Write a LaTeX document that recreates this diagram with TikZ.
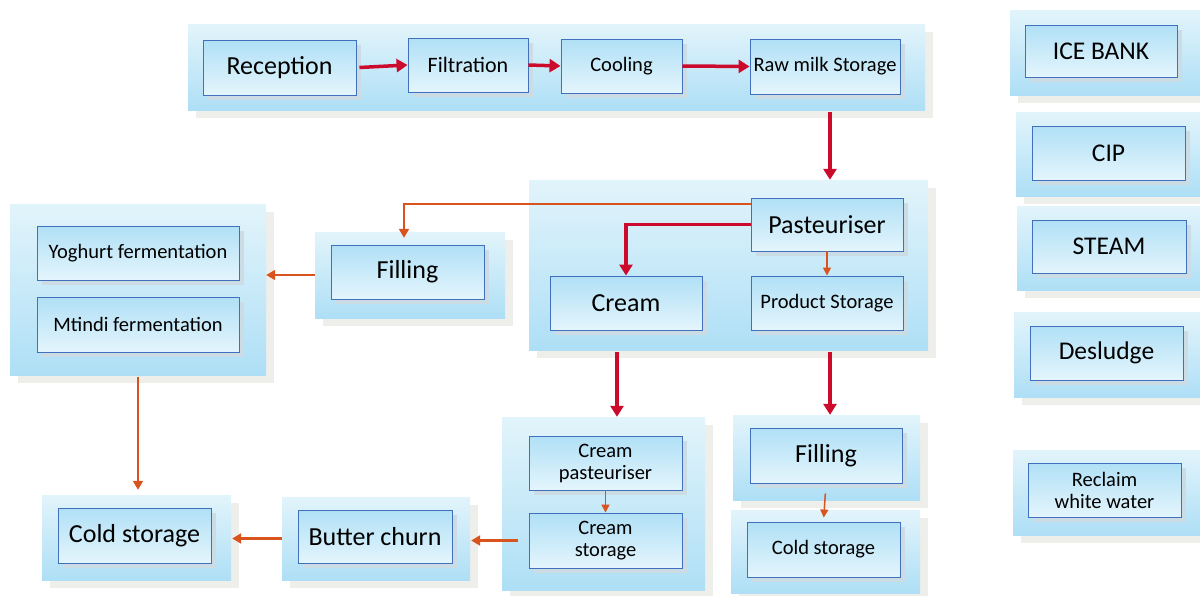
\documentclass[tikz,border=0pt]{standalone}
\usepackage{fontspec}
\setmainfont{Carlito}
\usepackage{xcolor}
\usetikzlibrary{arrows.meta, shadows, calc, positioning}

\definecolor{paneltop}{HTML}{E2F4FB}
\definecolor{panelbot}{HTML}{AEDFF6}
\definecolor{boxtop}{HTML}{B0E0F6}
\definecolor{boxbot}{HTML}{E4F5FC}
\definecolor{boxline}{HTML}{4070BE}
\definecolor{shadowgray}{HTML}{EEEEEA}
\definecolor{boxshadow}{HTML}{CCDCE4}
\definecolor{flowred}{HTML}{CC0A2C}
\definecolor{floworange}{HTML}{D9531E}

\tikzset{
  panel/.style={rectangle, inner sep=0pt, top color=paneltop, bottom color=panelbot,
    drop shadow={shadow xshift=8pt, shadow yshift=-8pt, shadow scale=1, fill=shadowgray, opacity=1}},
  box/.style={rectangle, draw=boxline, line width=0.9pt, inner sep=0pt, align=center,
    top color=boxtop, bottom color=boxbot,
    drop shadow={shadow xshift=5pt, shadow yshift=-5pt, shadow scale=1, fill=boxshadow, opacity=1}},
  bigtxt/.style={font=\fontsize{26}{28}\selectfont},
  midtxt/.style={font=\fontsize{20.5}{22}\selectfont},
  servtxt/.style={font=\fontsize{25.5}{27}\selectfont},
  redflow/.style={draw=flowred, line width=3.5pt, -{Triangle[length=11pt, width=13pt]}},
  orflow/.style={draw=floworange, line width=2pt, -{Triangle[length=9pt, width=10pt]}},
  smallflow/.style={draw=floworange, line width=1.5pt, -{Triangle[length=8pt, width=8pt]}}
}

\begin{document}
\begin{tikzpicture}[x=1pt, y=-1pt]
\useasboundingbox (0,0) rectangle (1200,595);

% reception line
\node[panel, minimum width=737pt, minimum height=86pt] (pTop) at (556.5, 67) {};
\node[box, bigtxt, minimum width=153pt, minimum height=55pt] (rec) at (279.5, 67.5) {Reception};
\node[box, font=\fontsize{22}{24}\selectfont, minimum width=120pt, minimum height=54pt] (filt) at (468, 65) {Filtration};
\node[box, midtxt, minimum width=121pt, minimum height=54pt] (cool) at (621.5, 66) {Cooling};
\node[box, midtxt, minimum width=150pt, minimum height=55pt] (raw) at (825, 66.5) {Raw milk Storage};

% pasteurising
\node[panel, minimum width=399pt, minimum height=170pt] (pPast) at (728.5, 265) {};
\node[box, bigtxt, minimum width=152pt, minimum height=53pt] (past) at (827, 224.5) {Pasteuriser};
\node[box, bigtxt, minimum width=152pt, minimum height=54pt] (cream) at (626, 303) {Cream};
\node[box, midtxt, minimum width=152pt, minimum height=54pt] (prod) at (827, 303) {Product Storage};

% filling and fermentation
\node[panel, minimum width=190pt, minimum height=86pt] (pFill) at (410, 275) {};
\node[box, bigtxt, minimum width=153pt, minimum height=54pt] (fill) at (407.5, 272) {Filling};
\node[panel, minimum width=256pt, minimum height=171pt] (pFerm) at (138, 289.5) {};
\node[box, midtxt, minimum width=202pt, minimum height=54pt] (yog) at (138, 253) {Yoghurt fermentation};
\node[box, midtxt, minimum width=202pt, minimum height=55pt] (mti) at (138, 324.5) {Mtindi fermentation};

% bottom row
\node[panel, minimum width=189pt, minimum height=85pt] (pCold) at (136.5, 537.5) {};
\node[box, bigtxt, minimum width=153pt, minimum height=55pt] (cold) at (134.5, 535.5) {Cold storage};
\node[panel, minimum width=188pt, minimum height=83pt] (pChurn) at (376, 538.5) {};
\node[box, bigtxt, minimum width=154pt, minimum height=53pt] (churn) at (375, 536.5) {Butter churn};
\node[panel, minimum width=203pt, minimum height=173pt] (pCr) at (603.5, 503.5) {};
\node[box, midtxt, minimum width=153pt, minimum height=54pt] (crPast) at (605.5, 463) {Cream\\pasteuriser};
\node[box, midtxt, minimum width=153pt, minimum height=55pt] (crSto) at (605.5, 540.5) {Cream\\storage};
\node[panel, minimum width=187pt, minimum height=85pt] (pFill2) at (826.5, 457.5) {};
\node[box, bigtxt, minimum width=152pt, minimum height=55pt] (fill2) at (826, 455.5) {Filling};
\node[panel, minimum width=189pt, minimum height=83pt] (pCold2) at (825.5, 551.5) {};
\node[box, midtxt, minimum width=153pt, minimum height=55pt] (cold2) at (823.5, 549.5) {Cold storage};

% services
\node[panel, minimum width=190pt, minimum height=85pt] (pIce) at (1105, 52.5) {};
\node[box, servtxt, minimum width=152pt, minimum height=52pt] (ice) at (1101, 51) {ICE BANK};
\node[panel, minimum width=190pt, minimum height=84pt] (pCip) at (1111, 154) {};
\node[box, servtxt, minimum width=153pt, minimum height=54pt] (cip) at (1108.5, 153) {CIP};
\node[panel, minimum width=190pt, minimum height=84pt] (pSteam) at (1112, 248) {};
\node[box, servtxt, minimum width=154pt, minimum height=53pt] (steam) at (1109, 246.5) {STEAM};
\node[panel, minimum width=190pt, minimum height=85pt] (pDes) at (1109, 354.5) {};
\node[box, servtxt, minimum width=153pt, minimum height=54pt] (des) at (1106.5, 353) {Desludge};
\node[panel, minimum width=190pt, minimum height=85pt] (pRec) at (1108, 492.5) {};
\node[box, midtxt, minimum width=153pt, minimum height=54pt] (recl) at (1104.5, 490) {Reclaim\\white water};

% flows
\draw[redflow] ([xshift=3pt]rec.east) -- (filt.west);
\draw[redflow] (filt.east) -- (cool.west);
\draw[redflow] (cool.east) -- (raw.west);
\draw[redflow] ([xshift=5pt, yshift=-2pt]raw.south |- pTop.south) -- ([xshift=5pt]raw.south |- pPast.north);
\draw[redflow] (past.west) -| (cream.north);
\draw[orflow] ([yshift=-6pt]past.north west) -| ([xshift=-6pt, yshift=-6pt]pFill.north);
\draw[smallflow] (past.south) -- (prod.north);
\draw[redflow] ([xshift=-9pt, yshift=-2pt]cream.south |- pPast.south) -- ([xshift=-9pt]cream.south |- pCr.north);
\draw[redflow] ([xshift=3pt, yshift=-2pt]prod.south |- pPast.south) -- ([xshift=3pt]prod.south |- pFill2.north);
\draw[orflow] (pFill.west) -- (pFerm.east |- pFill.west);
\draw[orflow] ([yshift=-2pt]pFerm.south) -- ([yshift=5pt]pFerm.south |- pCold.north);
\draw[smallflow] (crPast.south) -- (crSto.north);
\draw[orflow, line width=2.5pt] ([xshift=16pt]pCr.west |- crSto.west) -- ([xshift=1pt]pChurn.east |- crSto.west);
\draw[orflow, line width=2.5pt] (pChurn.west) -- ([xshift=1pt]pCold.east |- pChurn.west);
\draw[smallflow, shorten <=10pt, shorten >=4pt] (fill2.south) -- (cold2.north);
\end{tikzpicture}
\end{document}
